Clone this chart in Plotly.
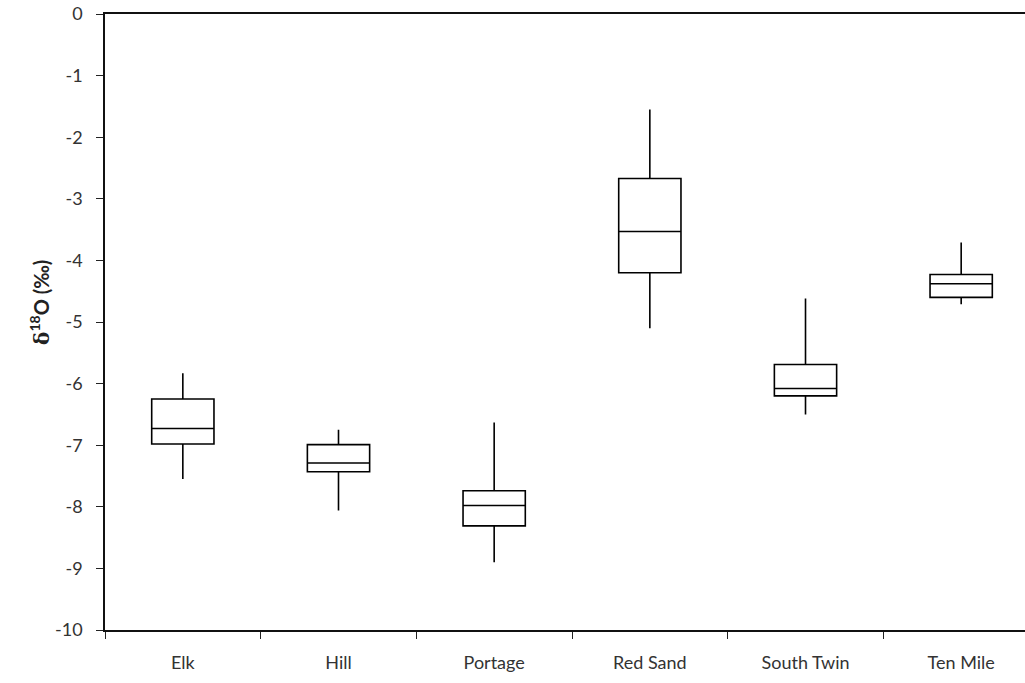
import plotly.graph_objects as go

categories = ["Elk", "Hill", "Portage", "Red Sand", "South Twin", "Ten Mile"]
upper_whisker = [-5.83, -6.75, -6.63, -1.55, -4.62, -3.71]
q3_values = [-6.25, -6.99, -7.74, -2.67, -5.69, -4.23]
median_values = [-6.73, -7.29, -7.98, -3.53, -6.08, -4.38]
q1_values = [-6.98, -7.43, -8.31, -4.20, -6.20, -4.60]
lower_whisker = [-7.55, -8.06, -8.90, -5.10, -6.50, -4.71]

y_tick_vals = [0, -1, -2, -3, -4, -5, -6, -7, -8, -9, -10]
y_tick_text = ["0", "-1", "-2", "-3", "-4", "-5", "-6", "-7", "-8", "-9", "-10"]

FONT = "Lato, 'Open Sans', sans-serif"

fig = go.Figure()
fig.add_trace(go.Box(
    x=categories,
    q1=q1_values,
    median=median_values,
    q3=q3_values,
    lowerfence=lower_whisker,
    upperfence=upper_whisker,
    width=0.4,
    whiskerwidth=0,
    fillcolor="white",
    line=dict(color="black", width=1.6),
    boxpoints=False,
    showlegend=False,
))

fig.update_layout(
    width=1025, height=683,
    margin=dict(l=105, r=0, t=14, b=53),
    paper_bgcolor="white", plot_bgcolor="white",
    font=dict(family=FONT, size=18, color="#333333"),
    showlegend=False,
    annotations=[dict(
        text="<b><span style='font-family:DejaVu Serif'>δ</span><sup>18</sup>O (‰)</b>",
        xref="paper", yref="paper",
        x=-0.071, y=0.532, xanchor="center", yanchor="middle",
        textangle=-90, showarrow=False,
        font=dict(family=FONT, size=20, color="#222222"),
    )],
)

fig.update_xaxes(
    type="category",
    range=[-0.5, 5.41],
    tickson="boundaries",
    ticks="outside", ticklen=7, tickwidth=1.3, tickcolor="#222222",
    ticklabelstandoff=16,
    showline=True, linecolor="#111111", linewidth=1.5,
    mirror=True,
    showgrid=False, zeroline=False,
    automargin=False,
    tickfont=dict(family=FONT, size=18, color="#333333"),
)
fig.update_yaxes(
    range=[-10, 0],
    tickvals=y_tick_vals, ticktext=y_tick_text,
    ticks="outside", ticklen=7, tickwidth=1.3, tickcolor="#222222",
    ticklabelstandoff=10,
    showline=True, linecolor="#111111", linewidth=1.5,
    showgrid=False, zeroline=False,
    automargin=False,
    tickfont=dict(family=FONT, size=18, color="#333333"),
)

fig.write_html(
    "out.html",
    config={"displayModeBar": False},
    post_script="document.body.style.margin='0';document.body.style.overflow='hidden';",
)
